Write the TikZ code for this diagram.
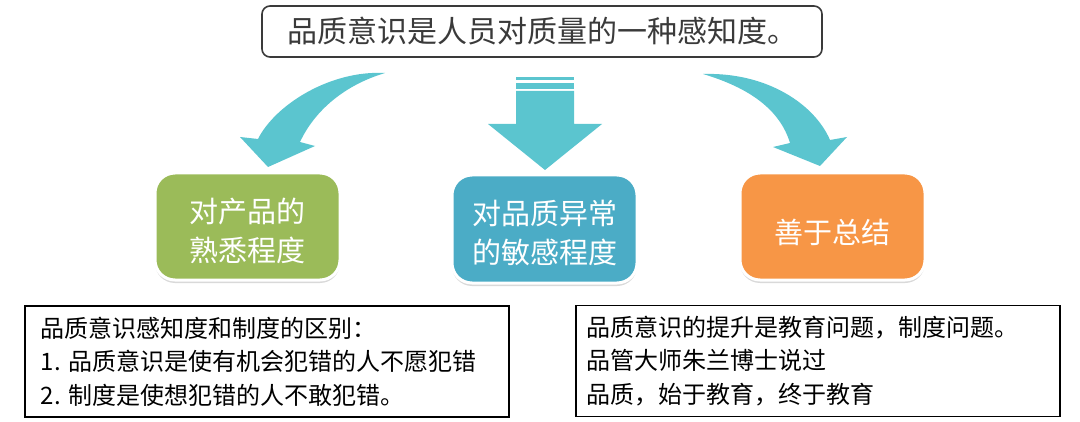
\documentclass[tikz,border=0pt]{standalone}
\usepackage{fontspec}
\setmainfont{Noto Sans CJK SC}
\usetikzlibrary{shadows}
\definecolor{arrowteal}{RGB}{91,197,207}
\definecolor{boxgreen}{RGB}{155,187,89}
\definecolor{boxblue}{RGB}{75,172,198}
\definecolor{boxorange}{RGB}{247,150,70}
\definecolor{titlegray}{RGB}{58,58,58}

\begin{document}
\begin{tikzpicture}[x=0.5pt,y=-0.5pt,
  topbox/.style={draw=titlegray, line width=0.8pt, rounded corners=4pt, minimum width=280pt, minimum height=25.5pt, text=titlegray, font=\fontsize{15}{18}\selectfont},
  colorbox/.style={draw=white, line width=1.5pt, rounded corners=10pt, minimum width=92.5pt, minimum height=53.5pt, text=white, align=center, font=\fontsize{14.5}{19.5}\selectfont, execute at begin node={\rule{0pt}{#1}}, drop shadow={shadow xshift=0pt, shadow yshift=-1.5pt, opacity=0.3}},
  colorbox/.default=18pt,
  notebox/.style={draw=black, line width=0.8pt, anchor=west, minimum height=55.5pt, align=left, font=\fontsize{12}{16.75}\selectfont}]
  \useasboundingbox (0,0) rectangle (1080,422);
  % arrows
  \fill[arrowteal] (385,73) .. controls (330,70) and (275,105) .. (258,139) -- (240,137) -- (268,167) -- (315,146) -- (300,142) .. controls (315,110) and (345,85) .. (385,73) -- cycle;
  \fill[arrowteal] (516,77) rectangle (574,80);
  \fill[arrowteal] (516,83) rectangle (574,89);
  \fill[arrowteal] (516,91) -- (574,91) -- (574,124) -- (602,124) -- (545,170) -- (488,124) -- (516,124) -- cycle;
  \fill[arrowteal] (703,74) .. controls (768,72) and (815,105) .. (830,140) -- (847,137) -- (820,166) -- (773,147) -- (790,143) .. controls (780,110) and (750,88) .. (703,74) -- cycle;
  % boxes
  \node[topbox] (title) at (542,31.5) {品质意识是人员对质量的一种感知度。};
  \node[colorbox=36.5pt, fill=boxgreen] (know) at (247.5,226.5) {对产品的\\熟悉程度};
  \node[colorbox=36pt, fill=boxblue, minimum height=54pt] (sense) at (544.5,229) {对品质异常\\的敏感程度};
  \node[colorbox, fill=boxorange] (sum) at (832.5,226.5) {善于总结};
  \node[notebox, text width=226pt, inner xsep=8pt] (diff) at (24,361.5) {品质意识感知度和制度的区别：\\1.~品质意识是使有机会犯错的人不愿犯错\\2.~制度是使想犯错的人不敢犯错。};
  \node[notebox, text width=231pt, inner xsep=5.5pt] (edu) at (575,361) {品质意识的提升是教育问题，制度问题。\\品管大师朱兰博士说过\\品质，始于教育，终于教育};
\end{tikzpicture}
\end{document}
